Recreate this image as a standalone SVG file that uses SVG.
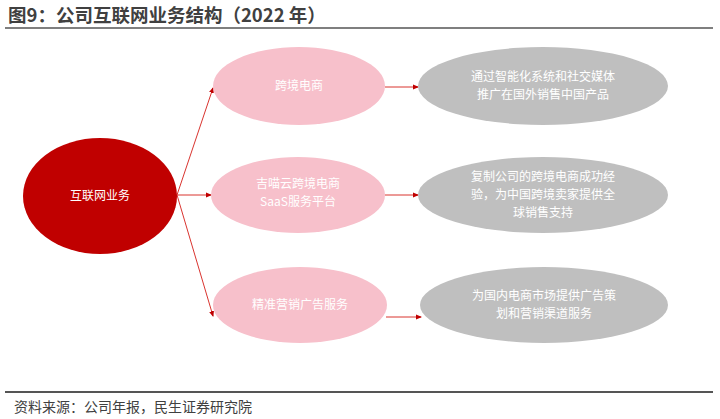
<svg xmlns="http://www.w3.org/2000/svg" width="720" height="419" viewBox="0 0 720 419">
<style>
text{font-family:"Noto Sans CJK SC","Noto Sans",sans-serif;}
.t{fill:#fff;font-size:12px;text-anchor:middle;}
.p{fill:#f7c0cb;}
.g{fill:#bfbfbf;}
.c{stroke:#d9342f;stroke-width:1;fill:none;marker-end:url(#a);}
</style>
<defs><marker id="a" markerWidth="6" markerHeight="6" refX="5" refY="3" orient="auto"><path d="M0,0.5 L6,3 L0,5.5z" fill="#c00000"/></marker></defs>
<rect width="720" height="419" fill="#fff"/>
<text x="8" y="22" font-size="18.5" font-weight="bold" fill="#404040">图9：公司互联网业务结构（2022 年）</text>
<line x1="5" y1="28" x2="713" y2="28" stroke="#555" stroke-width="1.5"/>
<line x1="5" y1="392" x2="713" y2="392" stroke="#555" stroke-width="2"/>
<text x="14" y="412" font-size="14" fill="#404040">资料来源：公司年报，民生证券研究院</text>
<g id="connectors">
<path class="c" d="M177,195 L213,88"/>
<path class="c" d="M177,195 L211,195"/>
<path class="c" d="M177,195 L213,316"/>
<path class="c" d="M385,87 L418,87"/>
<path class="c" d="M385,195 L418,195"/>
<path class="c" d="M386,317 L421,317"/>
</g>
<g id="root"><ellipse cx="100" cy="196" rx="77" ry="58" fill="#c00000"/><text class="t" x="100" y="200">互联网业务</text></g>
<g id="p1"><ellipse class="p" cx="299" cy="86" rx="86" ry="39"/><text class="t" x="299" y="90">跨境电商</text></g>
<g id="p2"><ellipse class="p" cx="298" cy="195" rx="87" ry="38"/><text class="t" x="298" y="188">吉喵云跨境电商</text><text class="t" x="298" y="206">SaaS服务平台</text></g>
<g id="p3"><ellipse class="p" cx="300" cy="305" rx="87" ry="38"/><text class="t" x="300" y="309">精准营销广告服务</text></g>
<g id="g1"><ellipse class="g" cx="543" cy="86" rx="125" ry="39"/><text class="t" x="543" y="81">通过智能化系统和社交媒体</text><text class="t" x="543" y="99">推广在国外销售中国产品</text></g>
<g id="g2"><ellipse class="g" cx="543" cy="195" rx="125" ry="38"/><text class="t" x="543" y="181">复制公司的跨境电商成功经</text><text class="t" x="543" y="199">验，为中国跨境卖家提供全</text><text class="t" x="543" y="217">球销售支持</text></g>
<g id="g3"><ellipse class="g" cx="544" cy="305" rx="124" ry="38"/><text class="t" x="544" y="300">为国内电商市场提供广告策</text><text class="t" x="544" y="318">划和营销渠道服务</text></g>
</svg>
